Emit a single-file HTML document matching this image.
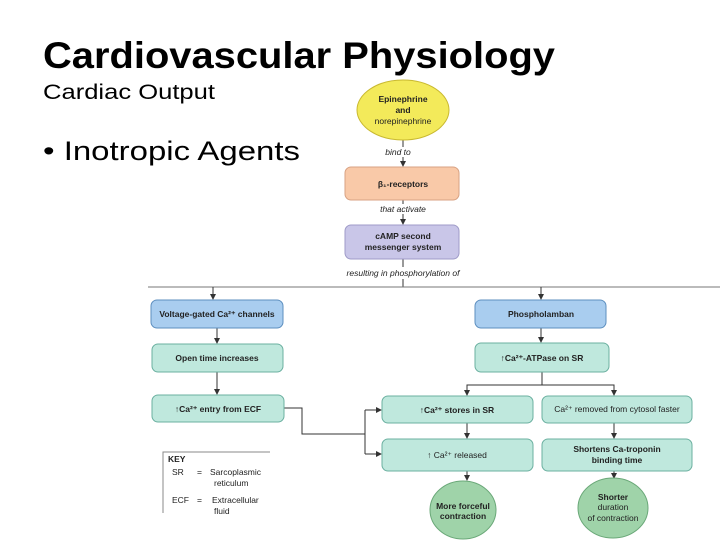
<!DOCTYPE html>
<html><head><meta charset="utf-8"><style>
body{margin:0;background:#fff}
svg text{font-family:"Liberation Sans",Arial,sans-serif}
</style></head><body>
<svg width="720" height="540" viewBox="0 0 720 540" xmlns="http://www.w3.org/2000/svg">
<defs><marker id="a" markerWidth="6" markerHeight="6" refX="5" refY="3" orient="auto"><path d="M0,0 L6,3 L0,6 z" fill="#333"/></marker></defs>
<text x="43" y="68" font-size="37" font-weight="bold" fill="#000" textLength="512" lengthAdjust="spacingAndGlyphs">Cardiovascular Physiology</text>
<text x="43" y="99" font-size="21" fill="#000" textLength="172" lengthAdjust="spacingAndGlyphs">Cardiac Output</text>
<text x="43" y="160" font-size="27" fill="#000" textLength="257" lengthAdjust="spacingAndGlyphs">• Inotropic Agents</text>
<g stroke="#333" stroke-width="1" fill="none">
<line x1="403" y1="140" x2="403" y2="147"/><line x1="403" y1="157" x2="403" y2="166" marker-end="url(#a)"/>
<line x1="403" y1="200" x2="403" y2="204"/><line x1="403" y1="214" x2="403" y2="224" marker-end="url(#a)"/>
<line x1="403" y1="259" x2="403" y2="267"/><line x1="403" y1="279" x2="403" y2="287"/>
<line x1="148" y1="287" x2="720" y2="287" stroke="#777"/>
<line x1="213" y1="287" x2="213" y2="299" marker-end="url(#a)"/>
<line x1="541" y1="287" x2="541" y2="299" marker-end="url(#a)"/>
<line x1="217" y1="328" x2="217" y2="343" marker-end="url(#a)"/>
<line x1="217" y1="372" x2="217" y2="394" marker-end="url(#a)"/>
<polyline points="284,408 302,408 302,434 365,434"/>
<polyline points="365,410 365,454"/>
<line x1="365" y1="410" x2="381" y2="410" marker-end="url(#a)"/>
<line x1="365" y1="454" x2="381" y2="454" marker-end="url(#a)"/>
<line x1="541" y1="328" x2="541" y2="342" marker-end="url(#a)"/>
<line x1="542" y1="372" x2="542" y2="385"/>
<polyline points="467,395 467,385 614,385 614,395"/>
<line x1="467" y1="391" x2="467" y2="395" marker-end="url(#a)"/>
<line x1="614" y1="391" x2="614" y2="395" marker-end="url(#a)"/>
<line x1="467" y1="423" x2="467" y2="438" marker-end="url(#a)"/>
<line x1="614" y1="423" x2="614" y2="438" marker-end="url(#a)"/>
<line x1="467" y1="471" x2="467" y2="480" marker-end="url(#a)"/>
<line x1="614" y1="471" x2="614" y2="478" marker-end="url(#a)"/>
<polyline points="270,452 163,452 163,513" stroke="#888"/>
</g>
<ellipse cx="403" cy="110" rx="46" ry="30" fill="#f3ea5a" stroke="#c9b930"/>
<rect x="345" y="167" width="114" height="33" rx="6" fill="#f9c9a8" stroke="#d8a283"/>
<rect x="345" y="225" width="114" height="34" rx="6" fill="#c9c6e8" stroke="#9f9bc8"/>
<rect x="151" y="300" width="132" height="28" rx="6" fill="#a9cdef" stroke="#5d8fbf"/>
<rect x="475" y="300" width="131" height="28" rx="6" fill="#a9cdef" stroke="#5d8fbf"/>
<g fill="#bfe8dd" stroke="#6bb0a0">
<rect x="152" y="344" width="131" height="28" rx="6"/>
<rect x="152" y="395" width="132" height="27" rx="6"/>
<rect x="475" y="343" width="134" height="29" rx="6"/>
<rect x="382" y="396" width="151" height="27" rx="6"/>
<rect x="542" y="396" width="150" height="27" rx="6"/>
<rect x="382" y="439" width="151" height="32" rx="6"/>
<rect x="542" y="439" width="150" height="32" rx="6"/>
</g>
<ellipse cx="463" cy="510" rx="33" ry="29" fill="#9fd3a9" stroke="#6aa878"/>
<ellipse cx="613" cy="508" rx="35" ry="30" fill="#9fd3a9" stroke="#6aa878"/>
<g font-size="8.5" font-weight="bold" fill="#222" text-anchor="middle">
<text x="403" y="102">Epinephrine</text><text x="403" y="113">and</text><text x="403" y="124" font-weight="normal">norepinephrine</text>
<text x="403" y="187">β₁-receptors</text>
<text x="403" y="239">cAMP second</text><text x="403" y="250">messenger system</text>
<text x="217" y="317">Voltage-gated Ca²⁺ channels</text>
<text x="217" y="361">Open time increases</text>
<text x="218" y="412">↑Ca²⁺ entry from ECF</text>
<text x="541" y="317">Phospholamban</text>
<text x="542" y="361">↑Ca²⁺-ATPase on SR</text>
<text x="457" y="413">↑Ca²⁺ stores in SR</text>
<text x="617" y="412" font-weight="normal">Ca²⁺ removed from cytosol faster</text>
<text x="457" y="458" font-weight="normal">↑ Ca²⁺ released</text>
<text x="617" y="452">Shortens Ca-troponin</text><text x="617" y="463">binding time</text>
<text x="463" y="509">More forceful</text><text x="463" y="519">contraction</text>
<text x="613" y="500">Shorter</text><text x="613" y="510" font-weight="normal">duration</text><text x="613" y="521" font-weight="normal">of contraction</text>
</g>
<g font-size="8.5" font-style="italic" fill="#222" text-anchor="middle">
<text x="398" y="155">bind to</text>
<text x="403" y="212">that activate</text>
<text x="403" y="276">resulting in phosphorylation of</text>
</g>
<g font-size="8.5" fill="#222">
<text x="168" y="462" font-weight="bold">KEY</text>
<text x="172" y="475">SR</text><text x="197" y="475">=</text><text x="210" y="475">Sarcoplasmic</text><text x="214" y="486">reticulum</text>
<text x="172" y="503">ECF</text><text x="197" y="503">=</text><text x="212" y="503">Extracellular</text><text x="214" y="514">fluid</text>
</g>
</svg>
</body></html>
